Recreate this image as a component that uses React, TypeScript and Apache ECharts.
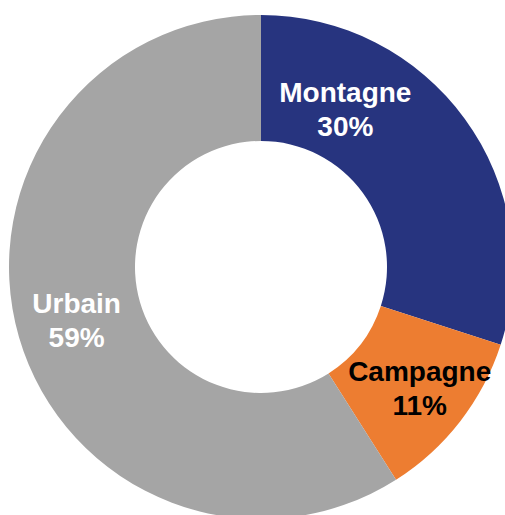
import React, { useEffect, useRef } from "react";
import * as echarts from "echarts";

const categories = ["Montagne", "Campagne", "Urbain"];
const values = [30, 11, 59];
const sliceColors = ["#27347F", "#ED7D31", "#A5A5A5"];
const labelColors = ["#FFFFFF", "#000000", "#FFFFFF"];
// label nudges relative to ECharts' default "inside" position (px)
const labelOffsets: [number, number][] = [[-71, -45], [7, 4], [0, 0]];

export default function App() {
  const ref = useRef<HTMLDivElement>(null);
  useEffect(() => {
    if (!ref.current) return;
    const chart = echarts.init(ref.current, null, { renderer: "svg" });
    chart.setOption({
      animation: false,
      backgroundColor: "#FFFFFF",
      series: [
        {
          type: "pie",
          center: [261, 267],
          radius: [126, 252],
          startAngle: 90,
          clockwise: true,
          avoidLabelOverlap: false,
          labelLine: { show: false },
          itemStyle: { borderWidth: 0 },
          emphasis: { disabled: true },
          data: categories.map((name, i) => ({
            name,
            value: values[i],
            itemStyle: { color: sliceColors[i] },
            label: {
              show: true,
              position: "inside",
              color: labelColors[i],
              offset: labelOffsets[i],
            },
          })),
          label: {
            show: true,
            position: "inside",
            formatter: (p: any) => `${p.name}\n${p.value}%`,
            fontFamily: "'Liberation Sans', Arial, sans-serif",
            fontWeight: "bold",
            fontSize: 28,
            lineHeight: 34,
            align: "center",
            verticalAlign: "middle",
            textBorderWidth: 0,
          },
        },
      ],
    });
    return () => chart.dispose();
  }, []);
  return (
    <div
      ref={ref}
      style={{ position: "fixed", left: 0, top: 0, width: 505, height: 515 }}
    />
  );
}
